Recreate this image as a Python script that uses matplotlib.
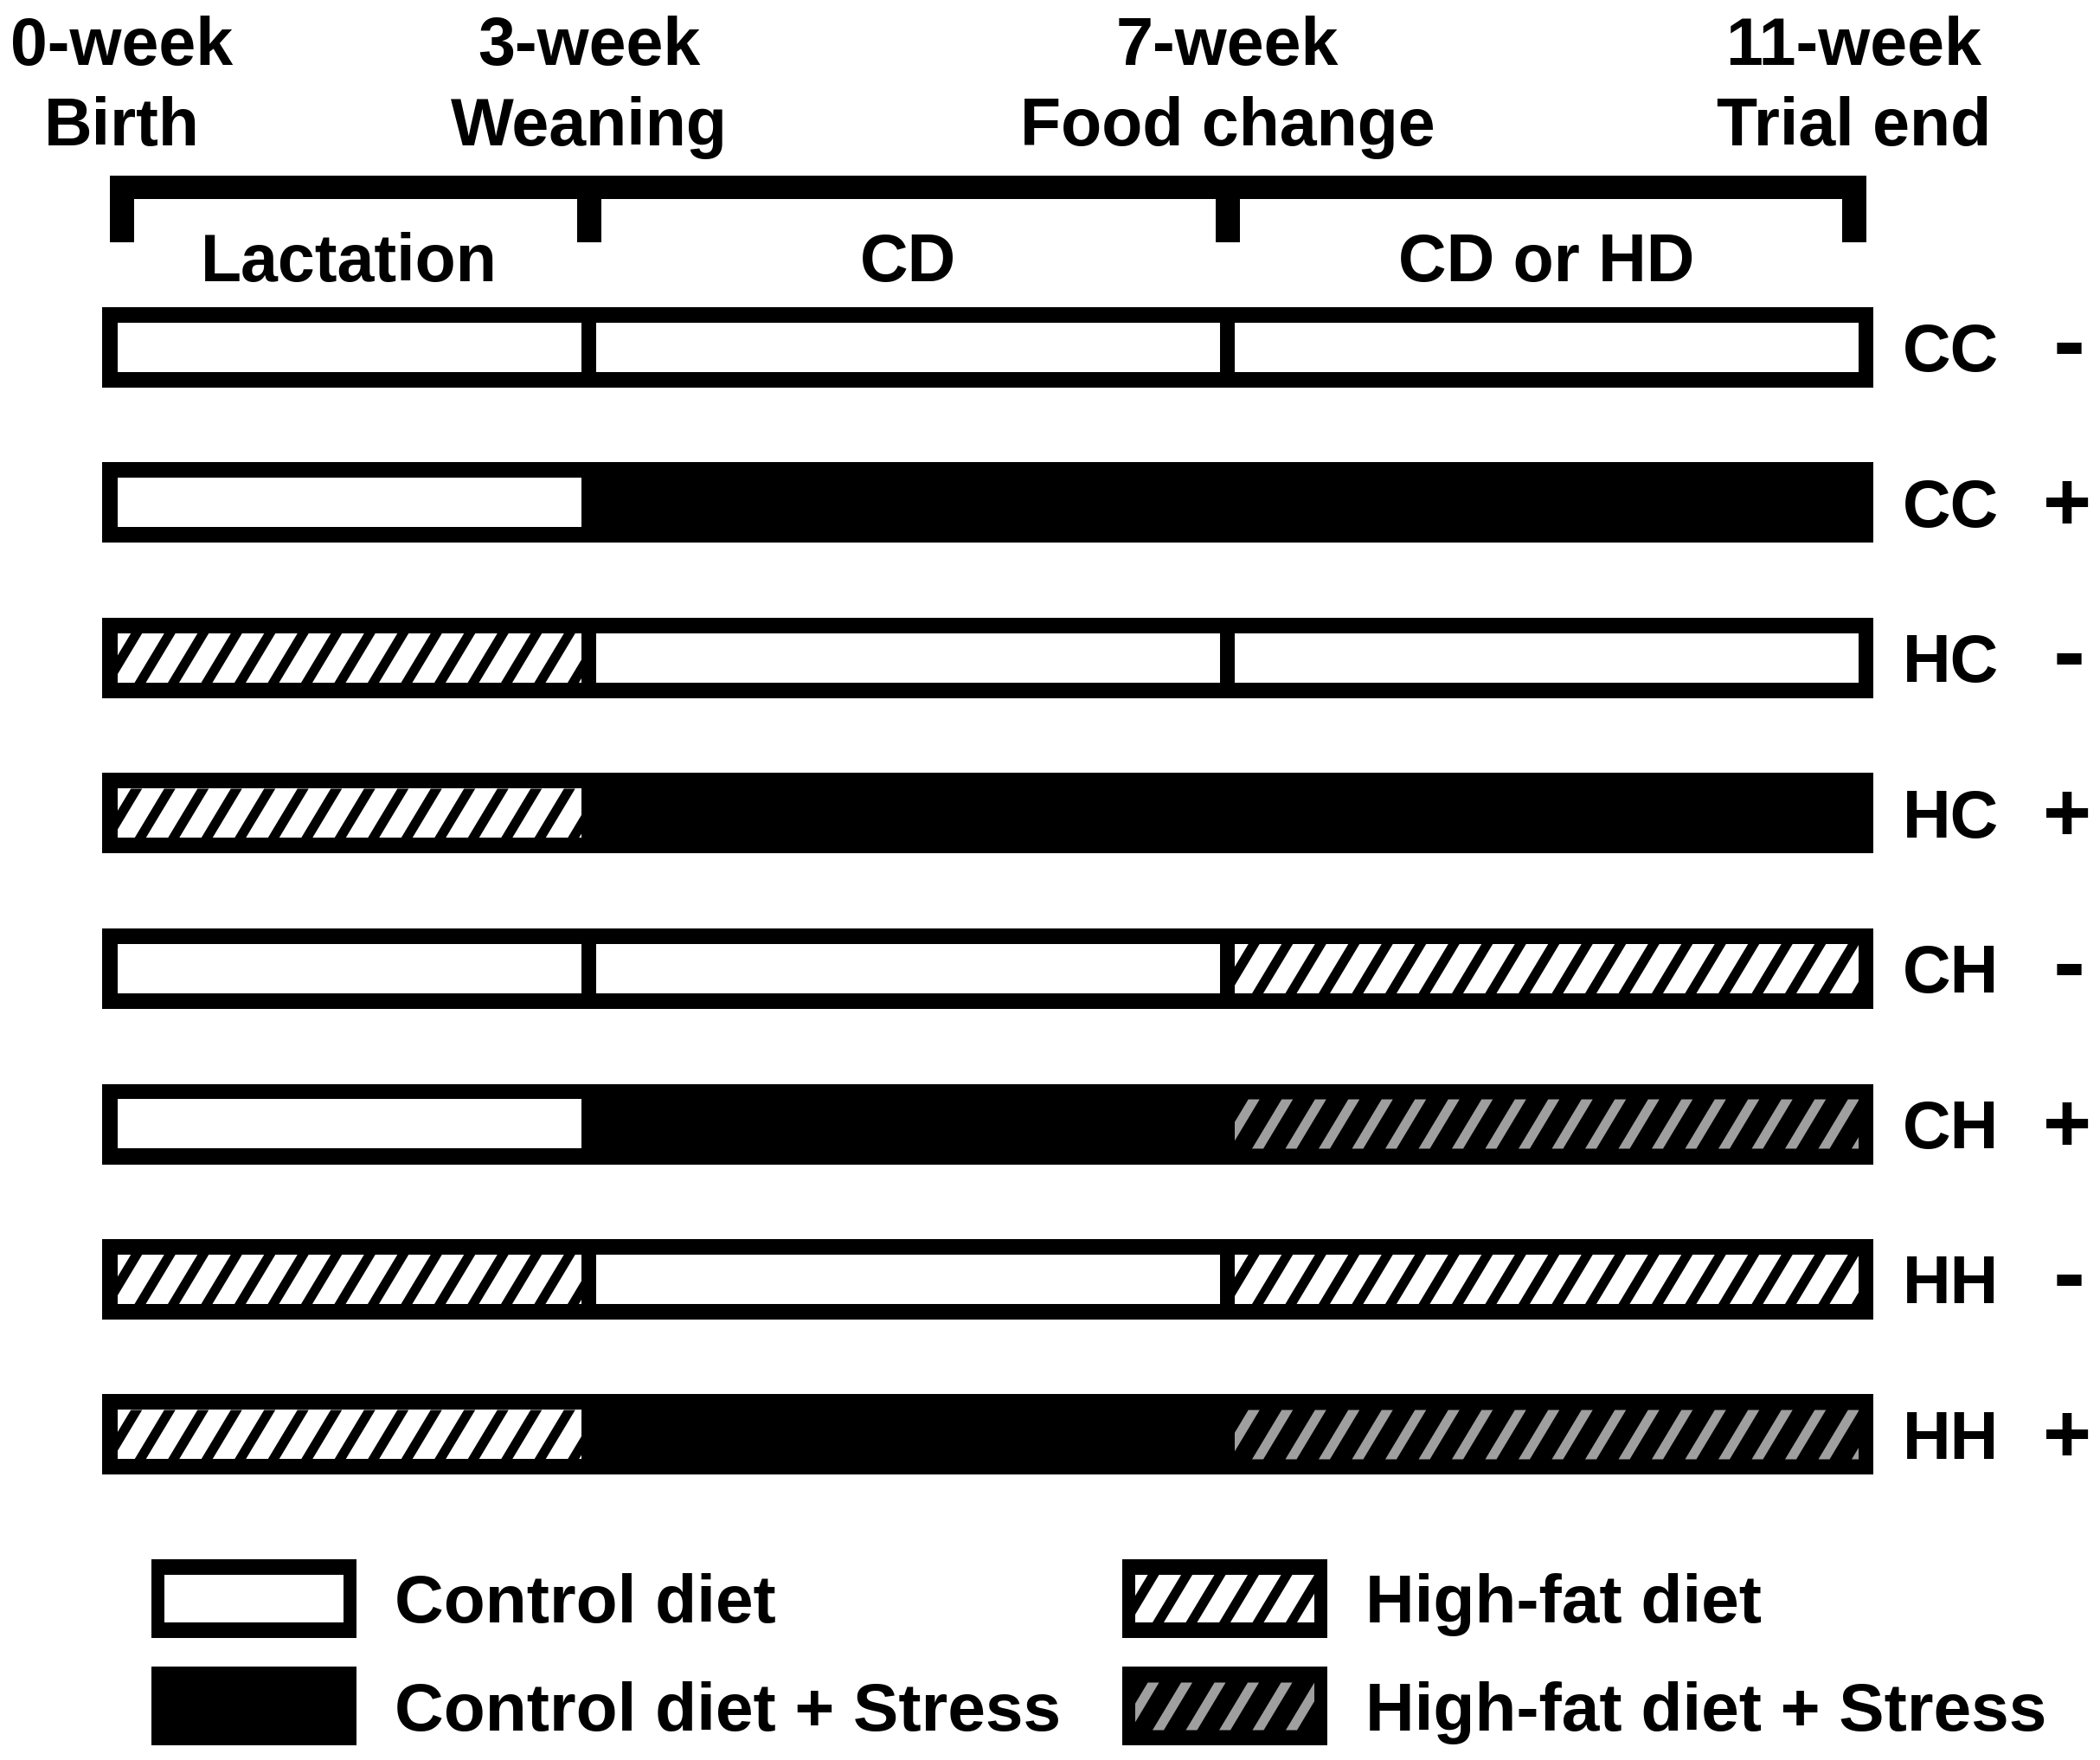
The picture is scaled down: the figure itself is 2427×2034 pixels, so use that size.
import math
import matplotlib
matplotlib.use('Agg')
import matplotlib.pyplot as plt
from matplotlib.patches import Rectangle, Polygon

# timeline
weeks = [0, 3, 7, 11]
week_labels = ['0-week', '3-week', '7-week', '11-week']
event_labels = ['Birth', 'Weaning', 'Food change', 'Trial end']
period_labels = ['Lactation', 'CD', 'CD or HD']

# groups (one row each)
groups = ['CC', 'CC', 'HC', 'HC', 'CH', 'CH', 'HH', 'HH']
stress_signs = ['-', '+', '-', '+', '-', '+', '-', '+']
lactation_diet = ['C', 'C', 'H', 'H', 'C', 'C', 'H', 'H']
weaning_diet = ['C', 'C', 'C', 'C', 'C', 'C', 'C', 'C']
final_diet = ['C', 'C', 'C', 'C', 'H', 'H', 'H', 'H']
stressed = [False, True, False, True, False, True, False, True]

legend_labels = ['Control diet', 'Control diet + Stress',
                 'High-fat diet', 'High-fat diet + Stress']
legend_diet = ['C', 'C', 'H', 'H']
legend_stress = [False, True, False, True]

W, H = 2427, 2034
X0, PXW = 127, 184.5     # pixel of week 0, pixels per week
Y0, PXR = 401.5, 179.5   # pixel of first row centre, pixels per row
GRAY = '#9f9f9f'
FS = 55.5

plt.rcParams['font.family'] = ['Liberation Sans', 'DejaVu Sans']
plt.rcParams['font.weight'] = 'bold'


def dx(p):
    return p / PXW


def dy(p):
    return p / PXR


def wx(p):
    return (p - X0) / PXW


def ry(p):
    return (p - Y0) / PXR


def style(diet, st):
    if diet == 'C':
        return ('black', None) if st else ('white', None)
    return ('black', GRAY) if st else ('white', 'black')


def fill(ax, x0, x1, y_top, y_bot, bg, fg):
    rect = Rectangle((x0, y_top), x1 - x0, y_bot - y_top,
                     facecolor=bg, edgecolor='none', lw=0)
    ax.add_patch(rect)
    if fg is None:
        return
    period, lw = dx(38.5), dx(13)
    slant = dx((y_bot - y_top) * PXR / math.tan(math.radians(59)))
    x = x0 + dx(20)
    while x + lw + slant > x0:
        x -= period
    while x < x1:
        p = Polygon([(x, y_bot), (x + lw, y_bot), (x + lw + slant, y_top),
                     (x + slant, y_top)], closed=True,
                    facecolor=fg, edgecolor='none', lw=0)
        ax.add_patch(p)
        p.set_clip_path(rect)
        x += period


fig = plt.figure(figsize=(W / 100, H / 100), dpi=100)
ax = fig.add_axes([0, 0, 1, 1])
ax.set_xlim(wx(0), wx(W))
ax.set_ylim(ry(H), ry(0))
ax.axis('off')

# header texts, centred over the bracket legs
for w, wl, el in zip(weeks, week_labels, event_labels):
    xc = min(max(w, dx(14)), weeks[-1] - dx(14))
    ax.text(xc, ry(75), wl, ha='center', va='baseline', fontsize=FS)
    ax.text(xc, ry(168), el, ha='center', va='baseline', fontsize=FS)

# bracket
ax.add_patch(Rectangle((0, ry(203)), weeks[-1], dy(27),
                       facecolor='black', lw=0))
for w in weeks:
    xl = min(max(w - dx(14), 0), weeks[-1] - dx(28))
    ax.add_patch(Rectangle((xl, ry(203)), dx(28), dy(77),
                           facecolor='black', lw=0))
for k, pl in enumerate(period_labels):
    ax.text((weeks[k] + weeks[k + 1]) / 2, ry(325), pl, ha='center',
            va='baseline', fontsize=FS)

# group bars
for i in range(len(groups)):
    ax.add_patch(Rectangle((weeks[0] - dx(8.5), i - dy(46.5)),
                           weeks[-1] - weeks[0] + dx(17), dy(93),
                           facecolor='black', lw=0))
    diets = [lactation_diet[i], weaning_diet[i], final_diet[i]]
    sts = [False, stressed[i], stressed[i]]
    for k in range(3):
        bg, fg = style(diets[k], sts[k])
        fill(ax, weeks[k] + dx(8.5), weeks[k + 1] - dx(8.5),
             i - dy(28.5), i + dy(28.5), bg, fg)
    ax.text(wx(2254), i + dy(28), groups[i], ha='center', va='baseline',
            fontsize=FS)
    if stress_signs[i] == '-':
        ax.text(wx(2391), i + dy(30), '-', ha='center', va='baseline',
                fontsize=80)
    else:
        ax.text(wx(2389), i + dy(32), '+', ha='center', va='baseline',
                fontsize=69)

# legend
col_left = [175, 1297]
row_centre = [1847.5, 1972]
for k, lab in enumerate(legend_labels):
    left = col_left[k // 2]
    yc = ry(row_centre[k % 2])
    ax.add_patch(Rectangle((wx(left), yc - dy(45.5)), dx(237), dy(91),
                           facecolor='black', lw=0))
    bg, fg = style(legend_diet[k], legend_stress[k])
    fill(ax, wx(left + 15), wx(left + 222), yc - dy(27.5), yc + dy(27.5),
         bg, fg)
    ax.text(wx(left + 281), yc + dy(28), lab, ha='left', va='baseline',
            fontsize=56.5)

fig.savefig('out.png', dpi=100, facecolor='white')
